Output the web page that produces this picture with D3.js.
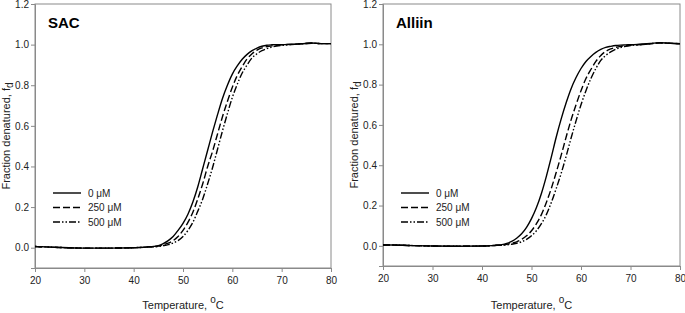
<!DOCTYPE html>
<html>
<head>
<meta charset="utf-8">
<script src="https://cdn.jsdelivr.net/npm/d3@7"></script>
<style>
  body { margin: 0; background: #fff; }
  text { font-family: "Liberation Sans", Arial, sans-serif; }
</style>
</head>
<body>
<script>
// legend labels and line styles per concentration
var series = ["0 \u03bcM", "250 \u03bcM", "500 \u03bcM"];
var dashes = [null, "7,3", "7,2,1.5,2,1.5,2"];
var xTicks = [20, 30, 40, 50, 60, 70, 80];
var yTicks = [0.0, 0.2, 0.4, 0.6, 0.8, 1.0, 1.2];

// temperatures (°C) at which fractions were read
var tempsLow = [20, 21, 22, 25, 30, 35, 40, 42, 43];
var tempsHigh = [44, 45, 46, 47, 48, 49, 50, 51, 52, 53, 54, 55, 56, 57, 58, 59, 60,
                 61, 62, 63, 64, 65, 66, 67, 68, 69, 70, 72, 74, 76, 78, 80];

// SAC panel
var sacLow   = [0.006, 0.005, 0.004, 0.001, -0.002, -0.002, 0.0, 0.002, 0.004];
var sac0   = [0.006, 0.01, 0.02, 0.035, 0.055, 0.085, 0.12, 0.165, 0.225, 0.30, 0.39, 0.48, 0.57, 0.655, 0.735, 0.80,
              0.855, 0.895, 0.928, 0.952, 0.97, 0.983, 0.992, 0.997, 0.999, 1.0, 1.0, 1.002, 1.004, 1.008, 1.005, 1.005];
var sac250 = [0.005, 0.008, 0.014, 0.022, 0.035, 0.055, 0.085, 0.125, 0.175, 0.24, 0.315, 0.40, 0.475, 0.56, 0.645, 0.72,
              0.79, 0.848, 0.892, 0.93, 0.955, 0.973, 0.984, 0.99, 0.994, 0.997, 0.999, 1.001, 1.004, 1.007, 1.005, 1.005];
var sac500 = [0.004, 0.006, 0.01, 0.015, 0.023, 0.035, 0.055, 0.085, 0.125, 0.18, 0.24, 0.315, 0.395, 0.485, 0.575, 0.66,
              0.74, 0.805, 0.86, 0.9, 0.935, 0.955, 0.97, 0.98, 0.988, 0.993, 0.996, 1.0, 1.004, 1.007, 1.005, 1.005];

// Alliin panel
var allLow   = [0.004, 0.004, 0.004, 0.002, -0.001, -0.002, -0.001, 0.001, 0.003];
var all0   = [0.006, 0.012, 0.022, 0.038, 0.06, 0.092, 0.135, 0.19, 0.26, 0.345, 0.44, 0.54, 0.63, 0.71, 0.78, 0.835,
              0.88, 0.915, 0.94, 0.96, 0.975, 0.985, 0.99, 0.994, 0.996, 0.997, 0.998, 1.0, 1.004, 1.008, 1.005, 1.003];
var all250 = [0.004, 0.008, 0.013, 0.02, 0.032, 0.05, 0.075, 0.11, 0.155, 0.215, 0.285, 0.365, 0.45, 0.54, 0.625, 0.70,
              0.77, 0.83, 0.875, 0.915, 0.945, 0.965, 0.977, 0.985, 0.99, 0.993, 0.996, 0.999, 1.003, 1.007, 1.005, 1.003];
var all500 = [0.003, 0.005, 0.008, 0.013, 0.02, 0.032, 0.05, 0.075, 0.11, 0.155, 0.215, 0.285, 0.36, 0.445, 0.535, 0.62,
              0.70, 0.77, 0.83, 0.88, 0.92, 0.945, 0.962, 0.975, 0.984, 0.99, 0.994, 0.998, 1.003, 1.007, 1.005, 1.003];

var W = 685, H = 313;
var svg = d3.select("body").append("svg")
    .attr("width", W)
    .attr("height", H);

var panels = [
  {name: "SAC",    left: 35,  right: 331, top: 4, bottom: 268, low: sacLow, curves: [sac0, sac250, sac500]},
  {name: "Alliin", left: 383, right: 680, top: 4, bottom: 266, low: allLow, curves: [all0, all250, all500]}
];

panels.forEach(function(p) {
  var x = d3.scaleLinear().domain([20, 80]).range([p.left, p.right]),
      y = d3.scaleLinear().domain([-0.1, 1.2]).range([p.bottom, p.top]);

  var g = svg.append("g");

  // frame
  g.append("rect")
      .attr("x", p.left).attr("y", p.top)
      .attr("width", p.right - p.left).attr("height", p.bottom - p.top)
      .attr("fill", "none").attr("stroke", "#8a8a8a").attr("stroke-width", 1);

  var xAxis = g.append("g")
      .attr("transform", "translate(0," + p.bottom + ")")
      .call(d3.axisBottom(x).tickValues(xTicks).tickSize(4).tickFormat(d3.format("d")));
  var yAxis = g.append("g")
      .attr("transform", "translate(" + p.left + ",0)")
      .call(d3.axisLeft(y).tickValues(yTicks).tickSize(4).tickFormat(d3.format(".1f")));

  [xAxis, yAxis].forEach(function(a) {
    a.select(".domain").attr("stroke", "#8a8a8a");
    a.selectAll(".tick line").attr("stroke", "#8a8a8a");
    a.selectAll(".tick text")
        .attr("fill", "#222")
        .style("font-size", "10px")
        .style("font-family", "Liberation Sans, Arial, sans-serif");
  });
  xAxis.selectAll(".tick text").attr("y", 8.5);
  yAxis.selectAll(".tick text").attr("x", -6);

  // curves
  var line = d3.line()
      .x(function(d) { return x(d[0]); })
      .y(function(d) { return y(d[1]); })
      .curve(d3.curveMonotoneX);

  p.curves.forEach(function(vals, i) {
    var pts = tempsLow.map(function(t, j) { return [t, p.low[j]]; })
        .concat(tempsHigh.map(function(t, j) { return [t, vals[j]]; }));
    g.append("path")
        .datum(pts)
        .attr("fill", "none")
        .attr("stroke", "#000")
        .attr("stroke-width", 1.4)
        .attr("stroke-dasharray", dashes[i])
        .attr("d", line);
  });

  // panel label
  g.append("text")
      .attr("x", p.left + 13).attr("y", 28)
      .style("font-size", "15px").style("font-weight", "bold")
      .text(p.name);

  // legend
  var lg = g.append("g").attr("transform", "translate(" + (p.left + 18) + ",193)");
  series.forEach(function(s, i) {
    lg.append("line")
        .attr("x1", 0).attr("x2", 28)
        .attr("y1", i * 14.5).attr("y2", i * 14.5)
        .attr("stroke", "#000").attr("stroke-width", 1.4)
        .attr("stroke-dasharray", dashes[i]);
    lg.append("text")
        .attr("x", 35).attr("y", i * 14.5).attr("dy", "0.35em")
        .attr("fill", "#222")
        .style("font-size", "10px")
        .text(s);
  });

  // x title
  var xt = g.append("text")
      .attr("x", (p.left + p.right) / 2).attr("y", 309)
      .attr("text-anchor", "middle")
      .attr("fill", "#222")
      .style("font-size", "11px");
  xt.append("tspan").text("Temperature, ");
  xt.append("tspan").attr("dy", -6).style("font-size", "10px").text("o");
  xt.append("tspan").attr("dy", 6).text("C");

  // y title
  var yt = g.append("text")
      .attr("transform", "translate(" + (p.left - 25) + "," + ((p.top + p.bottom) / 2) + ")rotate(-90)")
      .attr("text-anchor", "middle")
      .attr("fill", "#222")
      .style("font-size", "11px");
  yt.append("tspan").text("Fraction denatured, f");
  yt.append("tspan").attr("dy", 3).style("font-size", "10px").text("d");
});
</script>
</body>
</html>
